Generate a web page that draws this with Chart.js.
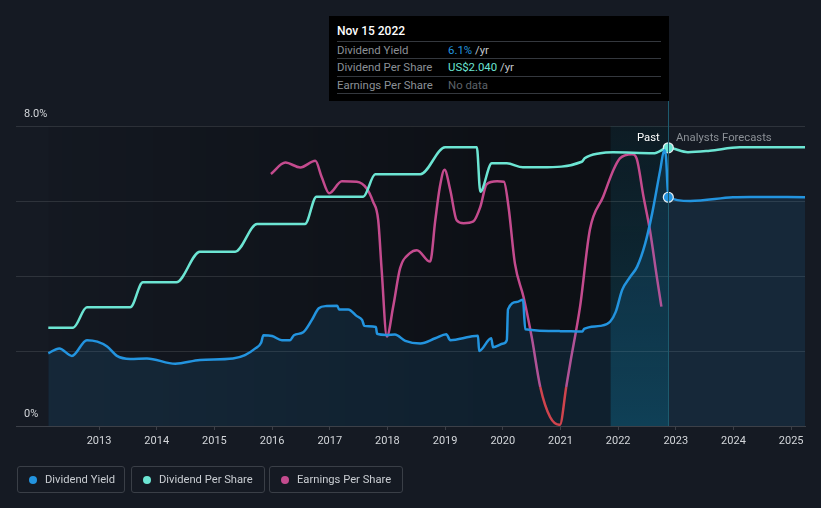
<!DOCTYPE html>
<html><head><meta charset="utf-8">
<script src="https://cdn.jsdelivr.net/npm/chart.js@4"></script>
<style>
html,body{margin:0;padding:0;background:#151a23;width:821px;height:508px;overflow:hidden;font-family:Roboto,"Noto Sans",sans-serif;}
#wrap{position:relative;width:821px;height:508px;}
canvas{position:absolute;left:0;top:0;}
#tip{position:absolute;left:329px;top:16px;width:340px;height:85px;background:#000;}
.t{position:absolute;font-size:11.4px;white-space:nowrap;line-height:14px;}
.sep{position:absolute;left:8px;width:324px;height:1px;background:#34383e;}
.legend{position:absolute;top:466px;height:27px;border:1px solid #3a3f47;border-radius:3px;box-sizing:border-box;color:#c9cdd2;font-size:11.2px;line-height:25px;}
.dot{position:absolute;left:11px;top:9px;width:8px;height:8px;border-radius:50%;}
.lab{position:absolute;left:27px;top:0;white-space:nowrap;}
.pl{position:absolute;font-size:11.3px;line-height:14px;white-space:nowrap;}
</style></head>
<body><div id="wrap">
<canvas id="c" width="821" height="508"></canvas>
<div id="tip">
  <div class="t" style="left:8px;top:8px;color:#fff;font-weight:500;font-size:12px;">Nov 15 2022</div>
  <div class="sep" style="top:25px"></div>
  <div class="t" style="left:8px;top:27px;color:#8b9096;">Dividend Yield</div>
  <div class="t" style="left:119px;top:27px;color:#c4c8cc;"><span style="color:#2394df">6.1%</span> /yr</div>
  <div class="sep" style="top:42px"></div>
  <div class="t" style="left:8px;top:44px;color:#8b9096;">Dividend Per Share</div>
  <div class="t" style="left:119px;top:44px;color:#c4c8cc;"><span style="color:#6ce5d3">US$2.040</span> /yr</div>
  <div class="sep" style="top:60px"></div>
  <div class="t" style="left:8px;top:62px;color:#8b9096;">Earnings Per Share</div>
  <div class="t" style="left:119px;top:62px;color:#5d6268;">No data</div>
  <div class="sep" style="top:77px"></div>
</div>
<div class="pl" style="left:637px;top:131px;color:#ffffff;">Past</div>
<div class="pl" style="left:676px;top:131px;color:#8b9096;">Analysts Forecasts</div>
<div class="legend" style="left:17px;width:108px;"><div class="dot" style="background:#2394df"></div><div class="lab">Dividend Yield</div></div>
<div class="legend" style="left:131px;width:134px;"><div class="dot" style="background:#6ce5d3"></div><div class="lab">Dividend Per Share</div></div>
<div class="legend" style="left:269px;width:134px;"><div class="dot" style="background:#c44b8e"></div><div class="lab">Earnings Per Share</div></div>
</div>
<script>
// ---- data ----
const yieldX = [2012.12,2012.31,2012.53,2012.79,2012.97,2013.14,2013.31,2013.54,2013.83,2014.32,2014.75,2015.32,2015.53,2015.71,2015.81,2015.85,2016.0,2016.17,2016.31,2016.38,2016.54,2016.69,2016.81,2016.95,2017.13,2017.16,2017.32,2017.47,2017.56,2017.60,2017.80,2017.82,2017.99,2018.13,2018.31,2018.57,2018.83,2019.02,2019.09,2019.43,2019.57,2019.59,2019.80,2019.83,2020.01,2020.07,2020.09,2020.25,2020.35,2020.39,2020.99,2021.38,2021.41,2021.69,2021.86,2021.96,2022.07,2022.21,2022.33,2022.47,2022.59,2022.73,2022.80,2022.83,2022.87];
const yieldY = [1.94,2.07,1.87,2.29,2.25,2.12,1.87,1.79,1.80,1.66,1.76,1.80,1.89,2.07,2.22,2.42,2.40,2.29,2.29,2.42,2.50,2.83,3.14,3.20,3.21,3.11,3.11,2.93,2.83,2.67,2.64,2.46,2.43,2.44,2.27,2.20,2.34,2.45,2.29,2.38,2.41,2.00,2.34,2.10,2.20,2.29,3.11,3.31,3.37,2.58,2.53,2.52,2.59,2.67,2.78,3.05,3.63,3.98,4.25,4.87,5.67,6.83,7.36,7.18,6.10];
const yieldFcX = [2023.25,2023.99,2024.29,2025.24];
const yieldFcY = [6.00,6.10,6.11,6.10];

const dpsX = [2012.12,2012.55,2012.79,2013.54,2013.76,2014.34,2014.75,2015.36,2015.74,2016.57,2016.77,2017.58,2017.79,2018.57,2019.00,2019.55,2019.61,2019.81,2020.07,2020.35,2020.66,2021.37,2021.42,2021.69,2021.91,2022.61,2022.87];
const dpsY = [0.721,0.721,0.870,0.870,1.054,1.054,1.278,1.278,1.481,1.481,1.682,1.682,1.846,1.846,2.044,2.044,1.718,1.926,1.926,1.897,1.897,1.938,1.963,2.000,2.007,2.000,2.040];
const dpsFcX = [2023.21,2023.59,2024.11,2025.24];
const dpsFcY = [2.008,2.019,2.044,2.044];

const epsX = [2015.98,2016.23,2016.49,2016.75,2016.86,2016.99,2017.21,2017.47,2017.64,2017.75,2017.84,2017.90,2017.99,2018.10,2018.22,2018.39,2018.51,2018.74,2018.83,2018.91,2018.99,2019.09,2019.20,2019.32,2019.49,2019.61,2019.72,2019.90,2020.02,2020.10,2020.21,2020.36,2020.50,2020.65,2020.82,2020.99,2021.10,2021.17,2021.34,2021.51,2021.74,2021.92,2022.03,2022.24,2022.32,2022.44,2022.55,2022.67,2022.75];
const epsY = [3.55,3.74,3.66,3.77,3.50,3.23,3.43,3.42,3.31,3.09,2.78,1.95,0.84,1.34,1.98,2.23,2.28,2.09,2.78,3.34,3.62,3.28,2.78,2.73,2.76,3.00,3.38,3.43,3.42,3.00,2.06,1.50,0.84,0.00,-0.50,-0.63,0.00,0.40,1.34,2.62,3.17,3.62,3.81,3.88,3.81,3.17,2.62,1.84,1.34];

const yieldTicks = [0,2,4,6,8];
const yearTicks = [2013,2014,2015,2016,2017,2018,2019,2020,2021,2022,2023,2024,2025];
const markerYear = 2022.87;
const lastYearStart = 2021.87;
const pastStart = 2012.12;

// ---- build ----
const pts = (xs, ys) => xs.map((x, i) => ({x, y: ys[i]}));
const yieldData = pts(yieldX.concat(yieldFcX), yieldY.concat(yieldFcY));
const dpsData = pts(dpsX.concat(dpsFcX), dpsY.concat(dpsFcY));
const epsData = pts(epsX, epsY);

const BLUE = '#2394df', TEAL = '#6ce5d3', MAG = '#c44b8e', RED = '#e8393a';
const markerR = ctx => (ctx.raw && ctx.raw.x === markerYear) ? 5 : 0;

const bgPlugin = {
  id: 'bg',
  beforeDraw(chart) {
    const {ctx, chartArea: a, scales: {x}} = chart;
    const x0 = x.getPixelForValue(pastStart);
    const xb = x.getPixelForValue(lastYearStart);
    const xe = x.getPixelForValue(markerYear);
    ctx.save();
    let g = ctx.createLinearGradient(x0, 0, xe, 0);
    g.addColorStop(0, 'rgba(0,0,0,0.04)');
    g.addColorStop(0.75, 'rgba(0,0,0,0.38)');
    g.addColorStop(1, 'rgba(0,0,0,0.38)');
    ctx.fillStyle = g;
    ctx.fillRect(x0, a.top, xe - x0, a.bottom - a.top);
    let g2 = ctx.createLinearGradient(0, a.top, 0, a.bottom);
    g2.addColorStop(0, 'rgba(14,70,90,0.22)');
    g2.addColorStop(1, 'rgba(14,90,115,0.5)');
    ctx.fillStyle = g2;
    ctx.fillRect(xb, a.top, xe - xb, a.bottom - a.top);
    ctx.restore();
  },
  afterDatasetsDraw(chart) {
    const {ctx, chartArea: a, scales: {x}} = chart;
    const xe = Math.round(x.getPixelForValue(markerYear)) + 0.5;
    ctx.save();
    ctx.strokeStyle = '#1d5b6e';
    ctx.lineWidth = 1;
    ctx.beginPath();
    ctx.moveTo(xe, 101);
    ctx.lineTo(xe, a.bottom);
    ctx.stroke();
    ctx.restore();
  }
};

new Chart(document.getElementById('c'), {
  type: 'line',
  data: {
    datasets: [
      {label: 'Dividend Yield', data: yieldData, yAxisID: 'y', borderColor: BLUE, borderWidth: 2.5,
       backgroundColor: 'rgba(35,148,223,0.12)', fill: 'origin', cubicInterpolationMode: 'monotone',
       pointRadius: markerR, pointBackgroundColor: BLUE, pointBorderColor: '#e8eef2', pointBorderWidth: 1.2},
      {label: 'Dividend Per Share', data: dpsData, yAxisID: 'yD', borderColor: TEAL, borderWidth: 2.5,
       fill: false, cubicInterpolationMode: 'monotone',
       pointRadius: markerR, pointBackgroundColor: TEAL, pointBorderColor: '#e8eef2', pointBorderWidth: 1.2},
      {label: 'Earnings Per Share', data: epsData, yAxisID: 'yE', borderColor: MAG, borderWidth: 2.5,
       fill: false, cubicInterpolationMode: 'monotone', pointRadius: 0,
       segment: {borderColor: c => (c.p0.parsed.y < 0 || c.p1.parsed.y < 0) ? RED : MAG}}
    ]
  },
  options: {
    responsive: false, animation: false, devicePixelRatio: 1,
    layout: {padding: {left: 16, right: 16, top: 126, bottom: 52}},
    plugins: {legend: {display: false}, tooltip: {enabled: false}},
    events: [],
    scales: {
      x: {type: 'linear', min: 2011.56, max: 2025.24,
        afterFit: s => { s.height = 30; },
        afterBuildTicks: s => { s.ticks = yearTicks.map(v => ({value: v})); },
        grid: {drawOnChartArea: false, drawTicks: true, tickLength: 4, color: '#3c4048'},
        border: {color: '#3c4048', width: 1},
        ticks: {color: '#d3d6da', font: {family: 'Roboto', size: 11}, padding: 5, maxRotation: 0, autoSkip: false,
          callback: v => String(v)}},
      y: {min: 0, max: 8, position: 'left',
        afterFit: s => { s.width = 0; },
        afterBuildTicks: s => { s.ticks = yieldTicks.map(v => ({value: v})); },
        grid: {color: 'rgba(255,255,255,0.11)', drawTicks: false},
        border: {display: false},
        ticks: {mirror: true, padding: 8, labelOffset: -12, color: '#d3d6da', font: {family: 'Roboto', size: 11},
          callback: v => v === 8 ? '8.0%' : (v === 0 ? '0%' : '')}},
      yD: {min: 0, max: 2.2, display: false},
      yE: {min: -0.65, max: 4.35, display: false}
    }
  },
  plugins: [bgPlugin]
});
</script>
</body></html>
